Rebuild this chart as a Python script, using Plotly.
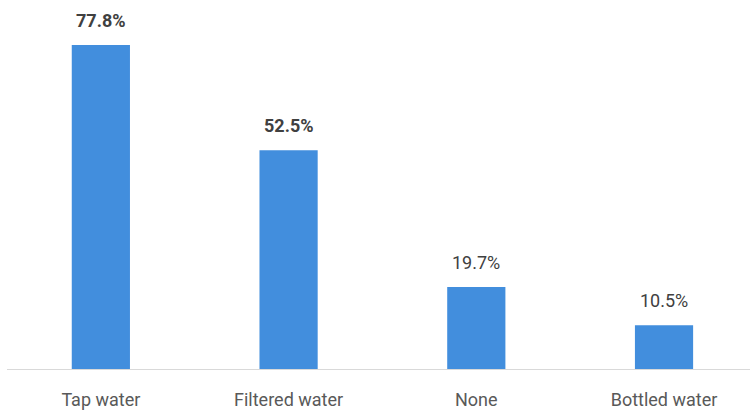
import plotly.graph_objects as go

categories = ["Tap water", "Filtered water", "None", "Bottled water"]
values = [77.8, 52.5, 19.7, 10.5]
labels = ["77.8%", "52.5%", "19.7%", "10.5%"]
bold = [True, True, False, False]

FONT = "Roboto, sans-serif"

fig = go.Figure(go.Bar(
    x=categories, y=values, width=0.31,
    marker=dict(color="#428EDD", line=dict(width=0)),
    hoverinfo="skip",
))

for c, v, t, b in zip(categories, values, labels, bold):
    fig.add_annotation(
        x=c, y=v, text=f"<b>{t}</b>" if b else t,
        showarrow=False, yanchor="bottom", yshift=12,
        font=dict(family=FONT, size=18, color="#404040"),
    )

fig.update_layout(
    width=750, height=412,
    margin=dict(l=7, r=0, t=0, b=43),
    paper_bgcolor="white", plot_bgcolor="white",
    showlegend=False,
    xaxis=dict(
        range=[-0.5, 3.458], showgrid=False, zeroline=False,
        showline=True, linecolor="#D9D9D9", linewidth=1,
        ticks="", tickfont=dict(family=FONT, size=18, color="#595959"),
        ticklabelstandoff=14,
    ),
    yaxis=dict(range=[0, 88.6], visible=False),
)

fig.write_html("out.html")
